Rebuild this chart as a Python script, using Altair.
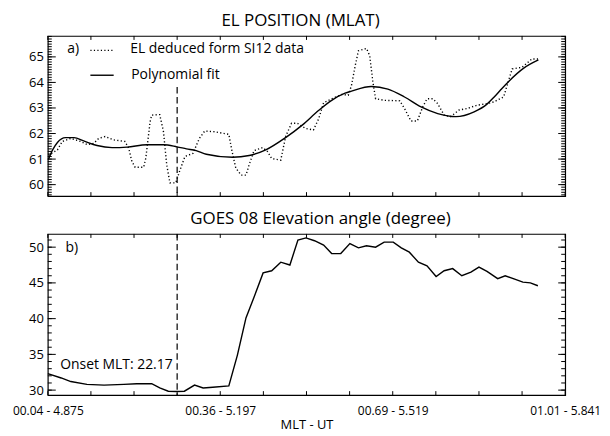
import altair as alt
import pandas as pd

FONT = "Open Sans"
W = 520
H1 = 161
H2 = 162

# ---- x axis (UT hours) ----
UT_TICKS = [4.875, 4.9555, 5.036, 5.1165, 5.197, 5.2775, 5.358, 5.4385,
            5.519, 5.5995, 5.68, 5.7605, 5.841]
MAJOR_UT = [4.875, 5.197, 5.519, 5.841]
MAJOR_MLT = ["00.04", "00.36", "00.69", "01.01"]
ONSET_UT = 5.1165
ONSET_LABEL = "Onset MLT: 22.17"
ONSET_TOP_MLAT = 63.82

TITLE_A = "EL POSITION (MLAT)"
TITLE_B = "GOES 08 Elevation angle (degree)"
X_TITLE = "MLT - UT"
LEGEND_LABELS = ["EL deduced form SI12 data", "Polynomial fit"]

# ---- panel a: EL position ----
el_ut = [4.876, 4.893, 4.902, 4.918, 4.936, 4.949, 4.961, 4.970, 4.982, 4.998,
         5.019, 5.026, 5.032, 5.038, 5.054, 5.058, 5.066, 5.069, 5.084, 5.091,
         5.097, 5.103, 5.114, 5.121, 5.131, 5.146, 5.158, 5.168, 5.186, 5.202,
         5.213, 5.219, 5.226, 5.236, 5.245, 5.251, 5.260, 5.276, 5.285, 5.293,
         5.310, 5.319, 5.330, 5.341, 5.356, 5.371, 5.381, 5.390, 5.405, 5.424,
         5.436, 5.442, 5.449, 5.455, 5.470, 5.476, 5.482, 5.487, 5.504, 5.532,
         5.541, 5.553, 5.565, 5.575, 5.583, 5.594, 5.603, 5.615, 5.627, 5.643,
         5.658, 5.677, 5.695, 5.708, 5.726, 5.742, 5.760, 5.779, 5.794]
el_mlat = [61.15, 61.36, 61.69, 61.81, 61.69, 61.56, 61.62, 61.81, 61.88, 61.75,
           61.69, 61.43, 60.91, 60.68, 60.68, 61.04, 62.46, 62.72, 62.74, 62.07,
           60.78, 60.07, 60.07, 60.52, 61.10, 61.22, 61.81, 62.10, 62.07, 62.01,
           61.97, 61.30, 60.65, 60.37, 60.37, 60.78, 61.33, 61.45, 61.30, 61.02,
           60.96, 61.88, 62.40, 62.40, 62.20, 62.14, 62.59, 63.21, 63.36, 63.53,
           63.50, 63.88, 64.66, 65.24, 65.33, 65.05, 64.01, 63.36, 63.30, 63.28,
           62.98, 62.49, 62.49, 63.04, 63.36, 63.36, 63.17, 62.72, 62.66, 62.92,
           62.98, 63.11, 63.17, 63.24, 63.43, 64.53, 64.59, 64.92, 64.92]

fit_ut = [4.876, 4.884, 4.893, 4.908, 4.924, 4.942, 4.967, 4.995, 5.023, 5.060,
          5.091, 5.116, 5.134, 5.152, 5.171, 5.220, 5.251, 5.282, 5.319, 5.350,
          5.381, 5.405, 5.430, 5.442, 5.479, 5.510, 5.541, 5.572, 5.603, 5.637,
          5.671, 5.695, 5.708, 5.721, 5.736, 5.763, 5.791]
fit_mlat = [60.98, 61.36, 61.65, 61.84, 61.84, 61.71, 61.53, 61.45, 61.47, 61.56,
            61.56, 61.48, 61.40, 61.33, 61.19, 61.07, 61.14, 61.36, 61.84, 62.33,
            62.91, 63.30, 63.58, 63.66, 63.84, 63.74, 63.43, 63.04, 62.78, 62.66,
            62.85, 63.15, 63.42, 63.72, 64.05, 64.55, 64.88]

# ---- panel b: GOES 08 elevation ----
goes_ut = [4.875, 4.900, 4.918, 4.948, 4.980, 5.017, 5.041, 5.069, 5.084, 5.100,
           5.115, 5.130, 5.149, 5.165, 5.183, 5.213, 5.229, 5.245, 5.260, 5.277,
           5.293, 5.310, 5.327, 5.342, 5.357, 5.373, 5.390, 5.405, 5.422, 5.439,
           5.455, 5.470, 5.487, 5.503, 5.520, 5.535, 5.550, 5.567, 5.583, 5.600,
           5.615, 5.631, 5.648, 5.665, 5.680, 5.695, 5.715, 5.729, 5.748, 5.762,
           5.776, 5.790]
goes_elev = [32.3, 31.7, 31.2, 30.8, 30.7, 30.8, 30.9, 30.9, 30.3, 29.85,
             29.8, 29.85, 30.7, 30.3, 30.4, 30.6, 34.9, 40.1, 43.0, 46.4,
             46.7, 47.9, 47.5, 51.0, 51.3, 50.9, 50.3, 49.1, 49.1, 50.5,
             49.9, 50.2, 50.0, 50.7, 50.7, 49.9, 49.3, 47.9, 47.4, 45.9,
             46.7, 47.0, 46.0, 46.5, 47.2, 46.6, 45.6, 46.0, 45.5, 45.1,
             45.0, 44.6]

# ---- y axis ticks ----
Y1_DOMAIN = [59.55, 65.82]
Y1_MAJOR = [60, 61, 62, 63, 64, 65]
Y1_MINOR = [round(59.6 + 0.1 * i, 1) for i in range(63)]
Y2_DOMAIN = [29.3, 51.85]
Y2_MAJOR = [30, 35, 40, 45, 50]
Y2_MINOR = list(range(30, 52))

x_scale = alt.Scale(domain=[4.875, 5.841], nice=False, zero=False)
y1_scale = alt.Scale(domain=Y1_DOMAIN, nice=False, zero=False)
y2_scale = alt.Scale(domain=Y2_DOMAIN, nice=False, zero=False)

label_expr = "(" + "".join(
    f"format(datum.value,'.3f')=='{u:.3f}' ? '{m}' : " for m, u in zip(MAJOR_MLT, MAJOR_UT)
) + "'') + ' - ' + format(datum.value,'.3f')"


def y_axis(values):
    return alt.Axis(values=values, ticks=False, tickSize=0, domain=False, grid=False,
                    labelFontSize=13, labelPadding=4.5, labelFont=FONT,
                    labelColor="black", title=None)


AX_Y1 = y_axis(Y1_MAJOR)
AX_Y2 = y_axis(Y2_MAJOR)
AX_XB = alt.Axis(values=MAJOR_UT, labelExpr=label_expr, ticks=False, tickSize=0,
                 domain=False, grid=False, labelFontSize=12, labelFont=FONT,
                 labelColor="black", labelPadding=10, labelFlush=False,
                 labelOverlap=False, titleFont=FONT,
                 titleFontSize=13, titleFontWeight="normal", titleColor="black",
                 titlePadding=3, title=X_TITLE)


def y_ticks(values, scale, ax, x0, x1):
    return alt.Chart(pd.DataFrame({"v": values})).mark_rule(
        color="black", strokeWidth=1
    ).encode(y=alt.Y("v:Q", scale=scale, axis=ax, title=None),
             x=alt.value(x0), x2=alt.value(x1))


def x_ticks(xax, y0, y1):
    if xax is None:
        xenc = alt.X("v:Q", scale=x_scale, axis=None)
    else:
        xenc = alt.X("v:Q", scale=x_scale, axis=xax, title=X_TITLE)
    return alt.Chart(pd.DataFrame({"v": UT_TICKS})).mark_rule(
        color="black", strokeWidth=1
    ).encode(x=xenc, y=alt.value(y0), y2=alt.value(y1))


def frame_ticks(H, scale, ax, xax, major, minor):
    return [
        y_ticks(minor, scale, ax, 0, 4),
        y_ticks(major, scale, ax, 0, 8),
        y_ticks(minor, scale, ax, W - 4, W),
        y_ticks(major, scale, ax, W - 7, W),
        x_ticks(xax, 0, 4),
        x_ticks(xax, H - 4, H),
    ]


def label(text, x, y, align="left", size=14):
    return alt.Chart(pd.DataFrame({"t": [text]})).mark_text(
        align=align, baseline="middle", fontSize=size, font=FONT, color="black"
    ).encode(x=alt.value(x), y=alt.value(y), text="t:N")


def sample(x0, x1, y, dash=None):
    kw = dict(color="black", strokeWidth=1.4)
    if dash:
        kw["strokeDash"] = dash
    return alt.Chart(pd.DataFrame({"k": [0]})).mark_rule(**kw).encode(
        x=alt.value(x0), x2=alt.value(x1), y=alt.value(y))


# ---- panel a ----
df_el = pd.DataFrame({"ut": el_ut, "mlat": el_mlat})
df_fit = pd.DataFrame({"ut": fit_ut, "mlat": fit_mlat})

dotted = alt.Chart(df_el).mark_line(
    color="black", strokeWidth=1.4, strokeDash=[1.2, 2.3]
).encode(
    x=alt.X("ut:Q", scale=x_scale, axis=None),
    y=alt.Y("mlat:Q", scale=y1_scale, axis=AX_Y1, title=None),
)
fit = alt.Chart(df_fit).mark_line(color="black", strokeWidth=1.4, interpolate="monotone").encode(
    x=alt.X("ut:Q", scale=x_scale, axis=None),
    y=alt.Y("mlat:Q", scale=y1_scale, axis=AX_Y1, title=None),
)
onset_a = alt.Chart(pd.DataFrame({"ut": [ONSET_UT], "top": [ONSET_TOP_MLAT]})).mark_rule(
    color="black", strokeWidth=1.2, strokeDash=[6.5, 3.5]
).encode(
    x=alt.X("ut:Q", scale=x_scale, axis=None),
    y=alt.Y("top:Q", scale=y1_scale, axis=AX_Y1, title=None),
    y2=alt.value(H1),
)

panel_a = alt.layer(
    dotted, fit, onset_a,
    *frame_ticks(H1, y1_scale, AX_Y1, None, Y1_MAJOR, Y1_MINOR),
    label("a)", 19.5, 13.5),
    sample(42.8, 66.2, 14.5, dash=[1.2, 2.3]),
    label(LEGEND_LABELS[0], 82.8, 13.5),
    sample(42.8, 66.2, 39.5),
    label(LEGEND_LABELS[1], 83.8, 39),
).properties(
    width=W, height=H1,
    title=alt.TitleParams(TITLE_A, fontSize=17, fontWeight="normal", font=FONT,
                          offset=5, dx=-6, anchor="middle", color="black"),
)

# ---- panel b ----
df_goes = pd.DataFrame({"ut": goes_ut, "elev": goes_elev})
goes = alt.Chart(df_goes).mark_line(color="black", strokeWidth=1.4).encode(
    x=alt.X("ut:Q", scale=x_scale, axis=AX_XB, title=X_TITLE),
    y=alt.Y("elev:Q", scale=y2_scale, axis=AX_Y2, title=None),
)
onset_b = alt.Chart(pd.DataFrame({"ut": [ONSET_UT]})).mark_rule(
    color="black", strokeWidth=1.2, strokeDash=[6.5, 3.5]
).encode(
    x=alt.X("ut:Q", scale=x_scale, axis=AX_XB, title=X_TITLE),
    y=alt.value(0), y2=alt.value(H2),
)

panel_b = alt.layer(
    goes, onset_b,
    *frame_ticks(H2, y2_scale, AX_Y2, AX_XB, Y2_MAJOR, Y2_MINOR),
    label("b)", 17.8, 14.3),
    label(ONSET_LABEL, 125.5, 132, align="right"),
).properties(
    width=W, height=H2,
    title=alt.TitleParams(TITLE_B, fontSize=17, fontWeight="normal", font=FONT,
                          offset=5, dx=14, anchor="middle", color="black"),
)

chart = alt.vconcat(panel_a, panel_b, spacing=11).properties(
    padding={"left": 3, "top": 2, "right": 0, "bottom": 0},
    background="white",
).configure_view(stroke="black", strokeWidth=1.2)

chart.save("out.html", embed_options={"renderer": "svg", "actions": False})
